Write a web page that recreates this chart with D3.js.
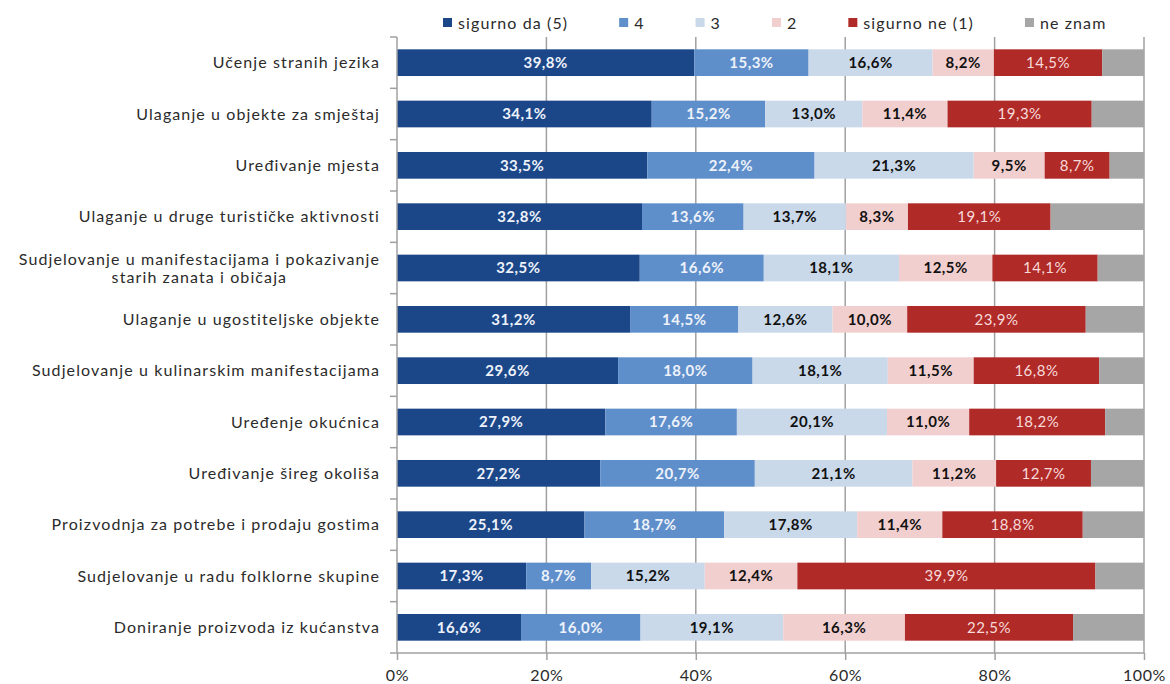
<!DOCTYPE html>
<html>
<head>
<meta charset="utf-8">
<script src="https://cdn.jsdelivr.net/npm/d3@7"></script>
<style>
  html, body { margin: 0; padding: 0; background: #fff; }
  svg { display: block; font-family: Lato, "Open Sans", sans-serif; }
</style>
</head>
<body>
<svg id="chart" width="1170" height="684"></svg>
<script>
// Survey categories, top to bottom
const categories = [
  "Učenje stranih jezika",
  "Ulaganje u objekte za smještaj",
  "Uređivanje mjesta",
  "Ulaganje u druge turističke aktivnosti",
  "Sudjelovanje u manifestacijama i pokazivanje\nstarih zanata i običaja",
  "Ulaganje u ugostiteljske objekte",
  "Sudjelovanje u kulinarskim manifestacijama",
  "Uređenje okućnica",
  "Uređivanje šireg okoliša",
  "Proizvodnja za potrebe i prodaju gostima",
  "Sudjelovanje u radu folklorne skupine",
  "Doniranje proizvoda iz kućanstva"
];

// Answer shares (%) per category
const sigurnoDa = [39.8, 34.1, 33.5, 32.8, 32.5, 31.2, 29.6, 27.9, 27.2, 25.1, 17.3, 16.6];
const ocjena4   = [15.3, 15.2, 22.4, 13.6, 16.6, 14.5, 18.0, 17.6, 20.7, 18.7, 8.7, 16.0];
const ocjena3   = [16.6, 13.0, 21.3, 13.7, 18.1, 12.6, 18.1, 20.1, 21.1, 17.8, 15.2, 19.1];
const ocjena2   = [8.2, 11.4, 9.5, 8.3, 12.5, 10.0, 11.5, 11.0, 11.2, 11.4, 12.4, 16.3];
const sigurnoNe = [14.5, 19.3, 8.7, 19.1, 14.1, 23.9, 16.8, 18.2, 12.7, 18.8, 39.9, 22.5];
const neZnam    = [5.6, 7.0, 4.6, 12.5, 6.2, 7.8, 6.0, 5.2, 7.1, 8.2, 6.5, 9.5];

const seriesNames = ["sigurno da (5)", "4", "3", "2", "sigurno ne (1)", "ne znam"];
const tickValues = [0, 20, 40, 60, 80, 100];

const seriesValues = [sigurnoDa, ocjena4, ocjena3, ocjena2, sigurnoNe, neZnam];
const colors = ["#1b4789", "#5f8fcb", "#c9d9ea", "#f2cfcf", "#b02a28", "#a6a6a6"];
const labelFill = ["#eef2fa", "#eef2fa", "#111", "#111", "#f7dada", null];
const labelWeight = ["bold", "bold", "bold", "bold", "normal", "normal"];

const rows = categories.map((c, i) => {
  const r = { category: c };
  seriesNames.forEach((s, k) => r[s] = seriesValues[k][i]);
  return r;
});

const margin = { top: 37, right: 26, bottom: 31, left: 397 };
const width = 1170, height = 684;
const svg = d3.select("#chart");
const textColor = "#2b2b2b";

const x = d3.scaleLinear().domain([0, 100]).range([margin.left, width - margin.right]);
const y = d3.scaleBand().domain(categories).range([margin.top, height - margin.bottom]).paddingInner(0.48).paddingOuter(0.24);

const stacked = d3.stack().keys(seriesNames)(rows);

const gridColor = "#a0a0a0";

// vertical gridlines
svg.append("g")
  .selectAll("line")
  .data(tickValues.slice(1))
  .join("line")
  .attr("x1", d => x(d)).attr("x2", d => x(d))
  .attr("y1", margin.top).attr("y2", height - margin.bottom)
  .attr("stroke", gridColor).attr("stroke-width", 1.5);

// bars
const layer = svg.append("g")
  .selectAll("g")
  .data(stacked)
  .join("g")
  .attr("fill", (d, k) => colors[k]);

layer.selectAll("rect")
  .data(d => d.map(p => ({ p, cat: p.data.category })))
  .join("rect")
  .attr("x", d => x(d.p[0]))
  .attr("width", d => x(d.p[1]) - x(d.p[0]))
  .attr("y", d => y(d.cat))
  .attr("height", y.bandwidth());

// value labels
stacked.forEach((s, k) => {
  if (!labelFill[k]) return;
  svg.append("g")
    .selectAll("text")
    .data(s)
    .join("text")
    .attr("x", p => (x(p[0]) + x(p[1])) / 2)
    .attr("y", p => y(p.data.category) + y.bandwidth() / 2)
    .attr("dy", "0.36em")
    .attr("text-anchor", "middle")
    .attr("font-size", 15)
    .attr("letter-spacing", 0.5)
    .attr("font-weight", labelWeight[k])
    .attr("fill", labelFill[k])
    .text(p => d3.format(".1f")(p[1] - p[0]).replace(".", ",") + "%");
});

// left axis
const yAxisG = svg.append("g");
yAxisG.append("line")
  .attr("x1", margin.left).attr("x2", margin.left)
  .attr("y1", margin.top).attr("y2", height - margin.bottom)
  .attr("stroke", gridColor).attr("stroke-width", 1.5);
const boundaries = d3.range(categories.length + 1).map(i => margin.top + i * y.step());
yAxisG.selectAll("line.tick")
  .data(boundaries)
  .join("line")
  .attr("class", "tick")
  .attr("x1", margin.left - 7).attr("x2", margin.left)
  .attr("y1", d => d).attr("y2", d => d)
  .attr("stroke", gridColor).attr("stroke-width", 1.5);

// category labels
const catG = svg.append("g")
  .attr("font-size", 16)
  .attr("letter-spacing", 1.1)
  .attr("fill", textColor);
categories.forEach(c => {
  const lines = c.split("\n");
  const cy = y(c) + y.bandwidth() / 2;
  const t = catG.append("text")
    .attr("text-anchor", "end");
  const lh = 18;
  lines.forEach((ln, i) => {
    t.append("tspan")
      .attr("x", 380)
      .attr("y", cy + (i - (lines.length - 1) / 2) * lh)
      .attr("dy", "0.35em")
      .text(ln);
  });
  if (lines.length > 1) {
    // centre the lines of a wrapped label under each other
    const spans = t.selectAll("tspan").nodes();
    const maxW = d3.max(spans, n => n.getComputedTextLength());
    t.attr("text-anchor", "middle");
    spans.forEach(n => d3.select(n).attr("x", 380 - maxW / 2));
  }
});

// bottom axis
const xAxis = d3.axisBottom(x)
  .tickValues(tickValues)
  .tickFormat(d => d + "%")
  .tickSize(7)
  .tickPadding(10);
const xg = svg.append("g")
  .attr("transform", `translate(0,${height - margin.bottom})`)
  .call(xAxis);
xg.select(".domain").attr("stroke", gridColor).attr("stroke-width", 1.5)
  .attr("d", `M${margin.left},0H${x(100)}`);
xg.selectAll(".tick line").attr("stroke", gridColor).attr("stroke-width", 1.5);
xg.selectAll(".tick text")
  .attr("font-size", 16)
  .attr("letter-spacing", 0.6)
  .attr("font-family", "Lato, 'Open Sans', sans-serif")
  .attr("fill", textColor);

// legend
const legend = svg.append("g").attr("font-size", 16).attr("letter-spacing", 1.1).attr("fill", textColor);
let lx = 443;
seriesNames.forEach((s, k) => {
  const g = legend.append("g").attr("transform", `translate(${lx},0)`);
  g.append("rect").attr("x", 0).attr("y", 18).attr("width", 9).attr("height", 9).attr("fill", colors[k]);
  const t = g.append("text").attr("x", 15).attr("y", 23).attr("dy", "0.35em").text(s);
  lx += 15 + t.node().getComputedTextLength() + 51;
});
</script>
</body>
</html>
